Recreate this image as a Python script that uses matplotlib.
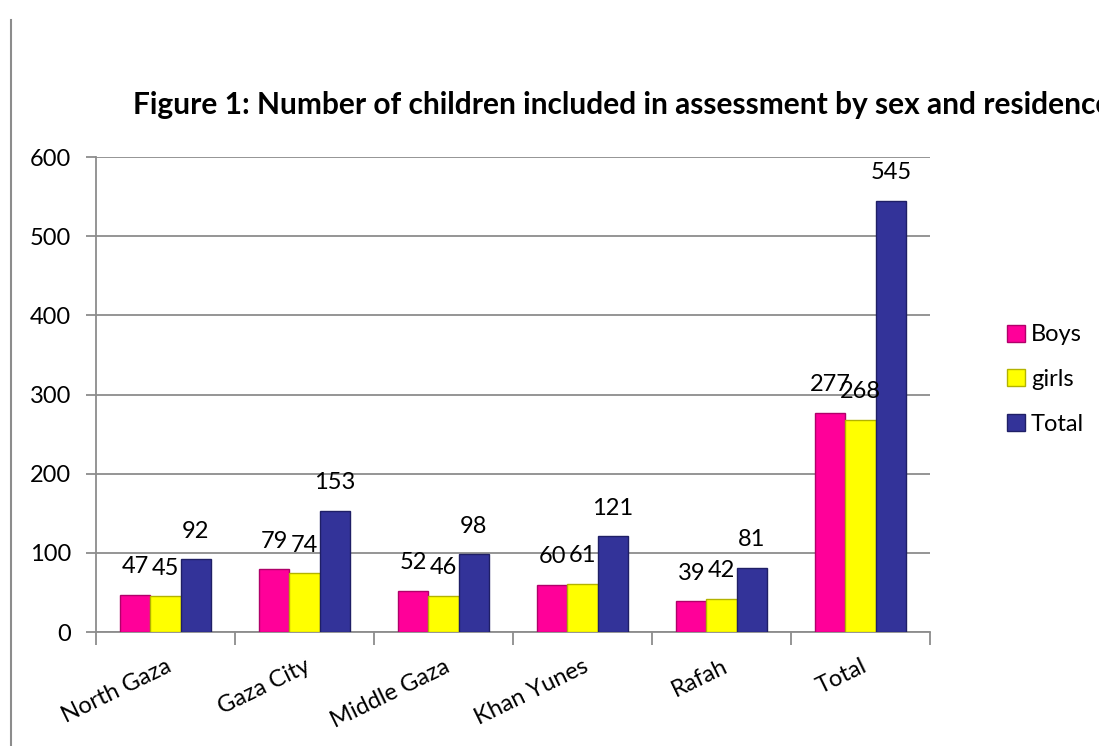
import matplotlib
matplotlib.use('Agg')
import matplotlib.pyplot as plt
from matplotlib.lines import Line2D
import numpy as np

plt.rcParams['font.family'] = ['Lato', 'DejaVu Sans']

# data
regions = ['North Gaza', 'Gaza City', 'Middle Gaza', 'Khan Yunes', 'Rafah', 'Total']
boys = [47, 79, 52, 60, 39, 277]
girls = [45, 74, 46, 61, 42, 268]
total = [92, 153, 98, 121, 81, 545]
series_names = ['Boys', 'girls', 'Total']

colors = ['#FF0099', '#FFFF00', '#333399']
edges = ['#B0006A', '#B3B300', '#1F1F66']

fig = plt.figure(figsize=(10.99, 7.46), dpi=100)
ax = fig.add_axes([0.0873, 0.1528, 0.759, 0.6367])

x = np.arange(len(regions))
w = 0.218
for k, vals in enumerate([boys, girls, total]):
    pos = x + (k - 1) * w
    bars = ax.bar(pos, vals, width=w, color=colors[k], edgecolor=edges[k],
                  linewidth=1, label=series_names[k], zorder=3)
    for b, v in zip(bars, vals):
        ax.annotate(str(v), (b.get_x() + b.get_width() / 2, v),
                    xytext=(0, 28), textcoords='offset pixels',
                    ha='center', va='center', fontsize=17, zorder=4)

ax.set_ylim(0, 600)
ax.set_xlim(-0.5, len(regions) - 0.5)
ax.set_yticks(range(0, 601, 100))
ax.yaxis.grid(True, color='#8C8C8C', linewidth=1.3, zorder=0)
ax.tick_params(axis='y', length=7, color='#8C8C8C', width=1.3, labelsize=17, pad=11)

# category ticks on the boundaries, labels at the centres
ax.set_xticks(np.arange(-0.5, len(regions)), minor=False)
ax.set_xticklabels([])
ax.set_xticks(x, minor=True)
ax.set_xticklabels(regions, minor=True, rotation=26, ha='right', va='top',
                   rotation_mode='anchor', fontsize=17)
ax.tick_params(axis='x', which='major', length=9, color='#8C8C8C', width=1.3)
ax.tick_params(axis='x', which='minor', length=0, pad=17)

for s in ['top', 'right']:
    ax.spines[s].set_visible(False)
for s in ['left', 'bottom']:
    ax.spines[s].set_color('#8C8C8C')
    ax.spines[s].set_linewidth(1.3)

fig.text(133 / 1099, 1 - 105 / 746,
         'Figure 1: Number of children included in assessment by sex and residence',
         ha='left', va='center', fontsize=21.5, fontweight='bold')

fig.legend(loc='upper left', bbox_to_anchor=(998 / 1099, 1 - 315 / 746),
           frameon=False, fontsize=17, handlelength=0.75, handleheight=0.75,
           handletextpad=0.25, labelspacing=1.0, borderaxespad=0)

# page border on the left
fig.add_artist(Line2D([11 / 1099, 11 / 1099], [0, 1 - 20 / 746],
                      color='#8C8C8C', linewidth=1.5))

fig.savefig('out.png', dpi=100)
